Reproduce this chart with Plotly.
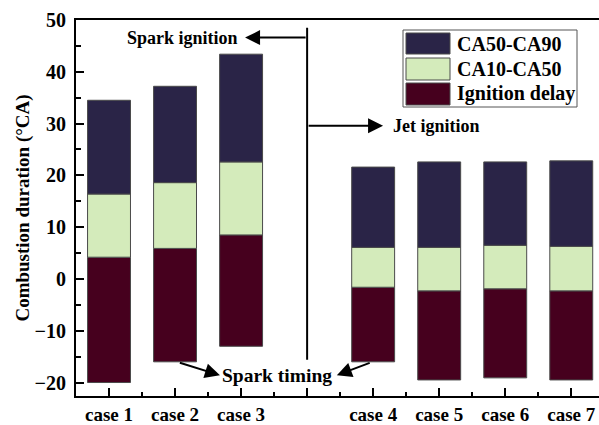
import plotly.graph_objects as go

# ---- data ----
cases = ["case 1", "case 2", "case 3", "case 4", "case 5", "case 6", "case 7"]
x_pos = [1, 2, 3, 5, 6, 7, 8]
spark_timing = [-20.0, -16.0, -13.0, -16.0, -19.5, -19.1, -19.5]
ca10 = [4.2, 5.9, 8.5, -1.6, -2.3, -1.9, -2.3]
ca50 = [16.4, 18.6, 22.6, 6.1, 6.1, 6.5, 6.3]
ca90 = [34.5, 37.2, 43.4, 21.6, 22.6, 22.6, 22.8]

series_names = ["Ignition delay", "CA10-CA50", "CA50-CA90"]
series_colors = ["#46001e", "#d4ebbb", "#2a2447"]

ign_delay = [b - a for a, b in zip(spark_timing, ca10)]
ca10_50 = [b - a for a, b in zip(ca10, ca50)]
ca50_90 = [b - a for a, b in zip(ca50, ca90)]

FONT = "Liberation Serif"
W, H = 599, 425
ML, MR, MT, MB = 76, 0, 20, 29
XR = [0.5, 8.42]
YR = [-22.6, 50]

fig = go.Figure()
for name, color, vals, base in [
    (series_names[0], series_colors[0], ign_delay, spark_timing),
    (series_names[1], series_colors[1], ca10_50, ca10),
    (series_names[2], series_colors[2], ca50_90, ca50),
]:
    fig.add_trace(go.Bar(
        x=x_pos, y=vals, base=base, name=name, width=0.65,
        marker=dict(color=color, line=dict(color="#4a4a4a", width=1)),
        showlegend=False,
    ))

# annotation lines / arrows
fig.add_shape(type="line", x0=4, x1=4, y0=48.5, y1=-15.6, xref="x", yref="y",
              line=dict(color="black", width=2))
arrow_common = dict(xref="x", yref="y", axref="x", ayref="y", showarrow=True,
                    arrowhead=2, arrowsize=1.5, arrowwidth=2, arrowcolor="black", text="")
fig.add_annotation(x=3.06, y=46.6, ax=4, ay=46.6, **arrow_common)
fig.add_annotation(x=5.15, y=29.6, ax=4, ay=29.6, **arrow_common)
fig.add_annotation(x=2.68, y=-18.6, ax=2.05, ay=-16.1, **arrow_common)
fig.add_annotation(x=4.45, y=-18.6, ax=4.97, ay=-16.1, **arrow_common)

fig.add_annotation(x=2.12, y=46.6, xref="x", yref="y", text="<b>Spark ignition</b>",
                   showarrow=False, font=dict(family=FONT, size=18, color="black"))
fig.add_annotation(x=5.96, y=29.6, xref="x", yref="y", text="<b>Jet ignition</b>",
                   showarrow=False, font=dict(family=FONT, size=18, color="black"))
fig.add_annotation(x=3.55, y=-18.6, xref="x", yref="y", text="<b>Spark timing</b>",
                   showarrow=False, font=dict(family=FONT, size=19.5, color="black"))

# custom legend (pixel -> paper helpers)
pw, ph = W - ML - MR, H - MT - MB
def px(v):
    return (v - ML) / pw
def py(v):
    return (H - MB - v) / ph

fig.add_shape(type="rect", xref="paper", yref="paper",
              x0=px(403), x1=px(577), y0=py(107), y1=py(30),
              line=dict(color="#555", width=1), fillcolor="white")
rows = [(33, 54), (58, 80), (83, 105)]
leg_order = [2, 1, 0]
for (t, b), i in zip(rows, leg_order):
    fig.add_shape(type="rect", xref="paper", yref="paper",
                  x0=px(406), x1=px(450), y0=py(b), y1=py(t),
                  line=dict(color="#4a4a4a", width=1), fillcolor=series_colors[i])
    fig.add_annotation(x=px(455), y=py((t + b) / 2), xref="paper", yref="paper",
                       xanchor="left", yanchor="middle", showarrow=False,
                       text="<b>%s</b>" % series_names[i],
                       font=dict(family=FONT, size=20, color="black"))

fig.update_layout(
    width=W, height=H, margin=dict(l=ML, r=MR, t=MT, b=MB),
    plot_bgcolor="white", paper_bgcolor="white", barmode="overlay",
    font=dict(family=FONT, size=16, color="black"),
)
fig.update_xaxes(
    range=XR, tickmode="array", tickvals=[1, 2, 3, 4, 5, 6, 7, 8],
    ticktext=["<b>%s</b>" % c for c in cases[:3]] + [""] + ["<b>%s</b>" % c for c in cases[3:]],
    ticks="inside", ticklen=8, tickwidth=2, tickcolor="black",
    minor=dict(tick0=0.5, dtick=1, ticks="inside", ticklen=4, tickwidth=2, tickcolor="black"),
    showline=True, linewidth=2, linecolor="black", mirror=True,
    showgrid=False, zeroline=False, tickfont=dict(family=FONT, size=19),
    automargin=False,
)
fig.update_yaxes(
    range=YR, tickmode="linear", tick0=0, dtick=10,
    tickprefix="<b>", ticksuffix="</b>",
    ticks="inside", ticklen=8, tickwidth=2, tickcolor="black",
    minor=dict(dtick=5, ticks="inside", ticklen=5, tickwidth=2, tickcolor="black"),
    showline=True, linewidth=2, linecolor="black",
    showgrid=False, zeroline=False, tickfont=dict(family=FONT, size=20),
    ticklabelstandoff=4, automargin=False,
    title=dict(text="<b>Combustion duration (°CA)</b>", font=dict(family=FONT, size=19), standoff=0),
)

fig.write_html("out.html")
